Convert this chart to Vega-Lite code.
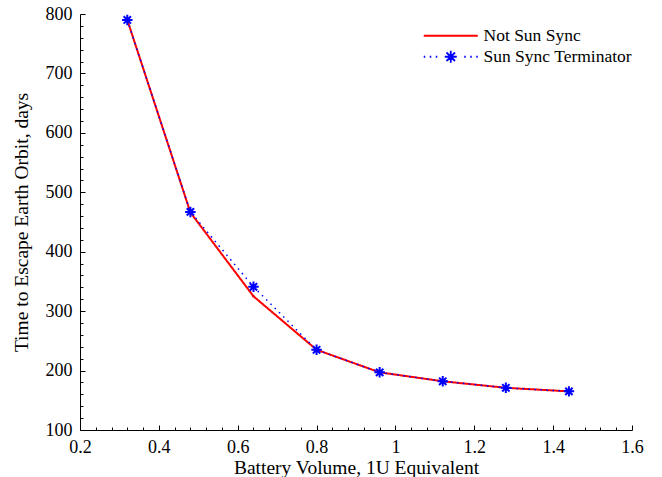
{
  "$schema": "https://vega.github.io/schema/vega-lite/v6.json",
  "width": 552,
  "height": 416,
  "autosize": {"type": "none"},
  "padding": {"left": 80, "top": 14, "right": 30, "bottom": 47},
  "background": "white",
  "config": {
    "view": {"stroke": null},
    "font": "Liberation Serif",
    "axis": {
      "domainColor": "black",
      "domainWidth": 1,
      "tickColor": "black",
      "tickWidth": 1,
      "labelColor": "black",
      "labelFont": "Liberation Serif",
      "labelFontSize": 18,
      "titleFont": "Liberation Serif",
      "titleFontSize": 19.5,
      "titleFontWeight": "normal",
      "titleColor": "black",
      "grid": false,
      "labelOverlap": false,
      "labelBound": false,
      "labelFlush": false
    }
  },
  "data": {
    "values": [
      {"x": 0.32, "y": 790, "series": "Not Sun Sync"},
      {"x": 0.48, "y": 466, "series": "Not Sun Sync"},
      {"x": 0.64, "y": 325, "series": "Not Sun Sync"},
      {"x": 0.80, "y": 235, "series": "Not Sun Sync"},
      {"x": 0.96, "y": 197, "series": "Not Sun Sync"},
      {"x": 1.12, "y": 182, "series": "Not Sun Sync"},
      {"x": 1.28, "y": 171, "series": "Not Sun Sync"},
      {"x": 1.44, "y": 165, "series": "Not Sun Sync"},
      {"x": 0.32, "y": 790, "series": "Sun Sync Terminator"},
      {"x": 0.48, "y": 467, "series": "Sun Sync Terminator"},
      {"x": 0.64, "y": 341, "series": "Sun Sync Terminator"},
      {"x": 0.80, "y": 235, "series": "Sun Sync Terminator"},
      {"x": 0.96, "y": 197, "series": "Sun Sync Terminator"},
      {"x": 1.12, "y": 182, "series": "Sun Sync Terminator"},
      {"x": 1.28, "y": 171, "series": "Sun Sync Terminator"},
      {"x": 1.44, "y": 165, "series": "Sun Sync Terminator"}
    ]
  },
  "encoding": {
    "x": {
      "field": "x",
      "type": "quantitative",
      "scale": {"domain": [0.2, 1.6], "nice": false, "zero": false},
      "axis": {
        "title": "Battery Volume, 1U Equivalent",
        "values": [0.2,0.24,0.28,0.32,0.36,0.4,0.44,0.48,0.52,0.56,0.6,0.64,0.68,0.72,0.76,0.8,0.84,0.88,0.92,0.96,1.0,1.04,1.08,1.12,1.16,1.2,1.24,1.28,1.32,1.36,1.4,1.44,1.48,1.52,1.56,1.6],
        "labelExpr": "abs(datum.value*5-round(datum.value*5))<0.001 ? format(datum.value,'~g') : ''",
        "tickSize": {"condition": {"test": "abs(datum.value*5-round(datum.value*5))<0.001", "value": -5}, "value": -3},
        "labelPadding": 13,
        "titlePadding": 0
      }
    },
    "y": {
      "field": "y",
      "type": "quantitative",
      "scale": {"domain": [100, 800], "nice": false, "zero": false},
      "axis": {
        "title": "Time to Escape Earth Orbit, days",
        "values": [100,120,140,160,180,200,220,240,260,280,300,320,340,360,380,400,420,440,460,480,500,520,540,560,580,600,620,640,660,680,700,720,740,760,780,800],
        "labelExpr": "datum.value % 100 === 0 ? format(datum.value,'d') : ''",
        "tickSize": {"condition": {"test": "datum.value % 100 === 0", "value": -5}, "value": -3},
        "labelPadding": 13,
        "titlePadding": 14
      }
    }
  },
  "layer": [
    {
      "mark": {"type": "line"},
      "encoding": {
        "color": {
          "field": "series",
          "type": "nominal",
          "scale": {"domain": ["Not Sun Sync", "Sun Sync Terminator"], "range": ["#ff0000", "#0000ff"]},
          "legend": {
            "title": null,
            "orient": "none",
            "legendX": 343,
            "legendY": 13,
            "padding": 0,
            "symbolSize": 100,
            "symbolOffset": 19,
            "labelOffset": 24,
            "rowPadding": 2,
            "labelFont": "Liberation Serif",
            "labelFontSize": 17.5,
            "labelColor": "black",
            "symbolFillColor": "transparent",
            "encode": {
              "symbols": {
                "update": {
                  "shape": {"signal": "datum.value === 'Not Sun Sync' ? 'M-5.4,0L5.4,0M-0.25,0L0.25,0' : 'M-5.4,0L-5.1,0M-4.2,0L-3.9,0M-3,0L-2.7,0M2.7,0L3,0M3.9,0L4.2,0M5.1,0L5.4,0M0,-1.2L0,1.2M-1.2,0L1.2,0M-0.85,-0.85L0.85,0.85M-0.85,0.85L0.85,-0.85'"},
                  "strokeWidth": {"signal": "datum.value === 'Not Sun Sync' ? 2 : 1.8"},
                  "fill": {"value": "transparent"}
                }
              }
            }
          }
        },
        "strokeDash": {
          "condition": {"test": "datum.series === 'Sun Sync Terminator'", "value": [1.5, 4.5]},
          "value": [1, 0]
        },
        "strokeWidth": {
          "condition": {"test": "datum.series === 'Sun Sync Terminator'", "value": 1.5},
          "value": 2
        }
      }
    },
    {
      "transform": [{"filter": "datum.series === 'Not Sun Sync'"}],
      "mark": {"type": "point", "filled": true, "color": "#ff0000", "size": 6, "opacity": 1}
    },
    {
      "transform": [{"filter": "datum.series === 'Sun Sync Terminator'"}],
      "mark": {
        "type": "point",
        "filled": false,
        "color": "#0000ff",
        "shape": "M0,-1L0,1M-1,0L1,0M-0.7,-0.7L0.7,0.7M-0.7,0.7L0.7,-0.7",
        "size": 110,
        "strokeWidth": 2,
        "opacity": 1
      }
    }
  ]
}
